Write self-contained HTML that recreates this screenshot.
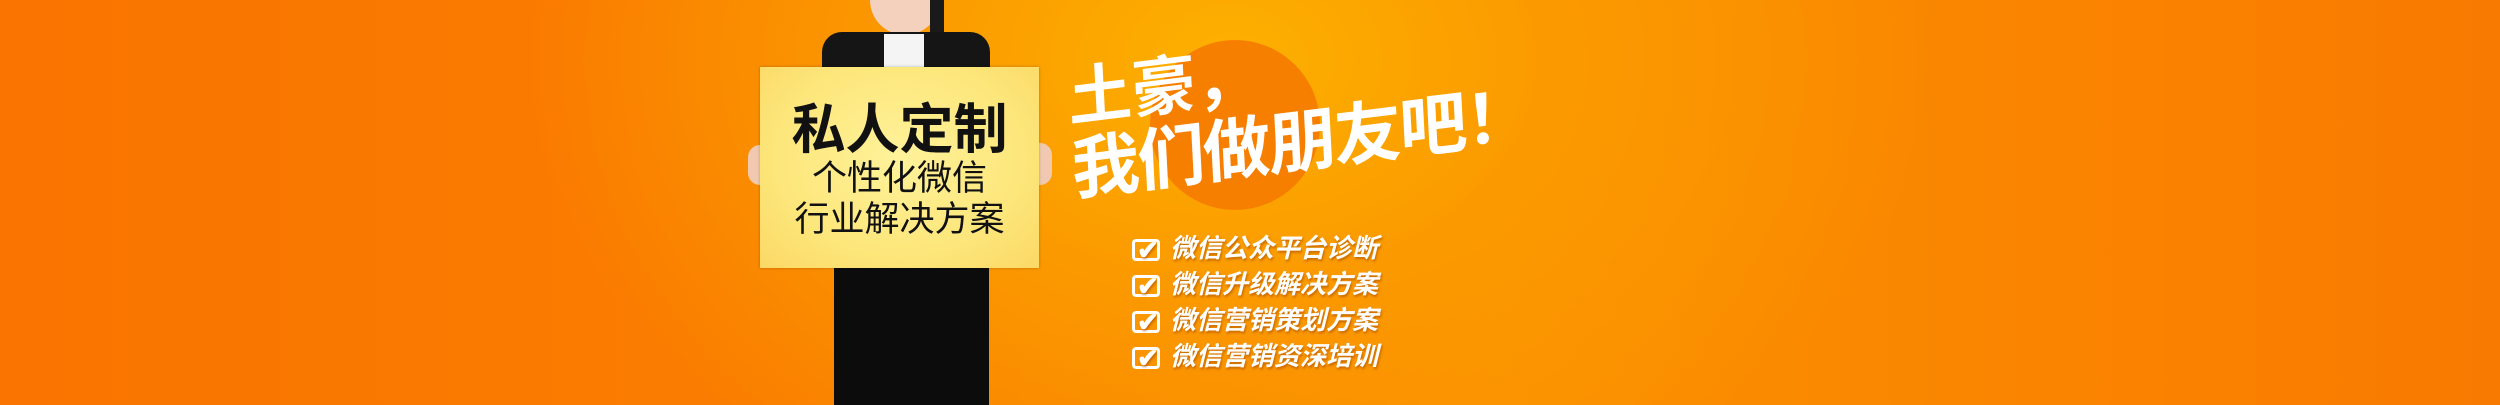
<!DOCTYPE html>
<html><head><meta charset="utf-8"><style>
html,body{margin:0;padding:0}
body{width:2500px;height:405px;overflow:hidden;position:relative;font-family:"Liberation Sans","Noto Sans CJK SC",sans-serif;
background:radial-gradient(ellipse 700px 500px at 1230px 60px,#fdb000 0%,#fb9a00 45%,rgba(250,125,0,0) 100%),linear-gradient(90deg,#f97400 0%,#fa8000 40%,#fb9000 60%,#f97a00 100%);}
.abs{position:absolute}
</style></head><body>
<div class="abs" style="left:1150px;top:40px;width:170px;height:170px;border-radius:50%;background:#f77f00"></div>
<div class="abs" style="left:870px;top:-20px;width:70px;height:55px;border-radius:0 0 35px 35px;background:#f3d1bd"></div>
<div class="abs" style="left:930px;top:0;width:14px;height:40px;background:#1a1a1a"></div>
<div class="abs" style="left:822px;top:32px;width:168px;height:40px;background:#151515;border-radius:20px 20px 0 0"></div>
<div class="abs" style="left:884px;top:34px;width:40px;height:38px;background:#f4f4f4"></div>
<div class="abs" style="left:834px;top:268px;width:155px;height:137px;background:#0c0c0c"></div>
<div class="abs" style="left:748px;top:145px;width:30px;height:40px;border-radius:12px;background:#f0c9b0"></div>
<div class="abs" style="left:1022px;top:143px;width:30px;height:42px;border-radius:12px;background:#f0c9b0"></div>
<div class="abs" style="left:760px;top:67px;width:279px;height:201px;background:radial-gradient(ellipse at 50% 45%,#fff29a 0%,#fde77c 60%,#fbd865 100%);box-shadow:0 0 3px rgba(0,0,0,.25);text-align:center;color:#111">
<div style="margin-top:34px;font-size:54px;font-weight:bold;line-height:58px">私人定制</div>
<div style="font-size:35px;line-height:40px">个性化微信</div>
<div style="font-size:35px;line-height:42px">行业解决方案</div>
</div>
<div class="abs" style="left:1074px;top:64px;color:#fff;font-weight:bold;transform:rotate(-7deg) skewX(-4deg);transform-origin:0 100%;">
<div style="font-size:64px;line-height:70px">土豪，</div>
<div style="font-size:68px;line-height:74px;letter-spacing:-2px">我们做朋友吧！</div>
</div>
<div class="abs" style="left:1132px;top:230px;color:#fff;font-weight:bold;font-style:italic;font-size:26px;text-shadow:1px 2px 2px rgba(150,60,0,.5)">
<div style="height:36px;line-height:36px"><span style="display:inline-block;width:28px;height:22px;border:3px solid #fff;border-radius:4px;vertical-align:middle;margin-right:10px;box-sizing:border-box;position:relative"><span style="position:absolute;left:2px;top:-10px;font-size:26px;font-style:normal">✔</span></span>微信公众平台诊断</div>
<div style="height:36px;line-height:36px"><span style="display:inline-block;width:28px;height:22px;border:3px solid #fff;border-radius:4px;vertical-align:middle;margin-right:10px;box-sizing:border-box;position:relative"><span style="position:absolute;left:2px;top:-10px;font-size:26px;font-style:normal">✔</span></span>微信升级解决方案</div>
<div style="height:36px;line-height:36px"><span style="display:inline-block;width:28px;height:22px;border:3px solid #fff;border-radius:4px;vertical-align:middle;margin-right:10px;box-sizing:border-box;position:relative"><span style="position:absolute;left:2px;top:-10px;font-size:26px;font-style:normal">✔</span></span>微信营销策划方案</div>
<div style="height:36px;line-height:36px"><span style="display:inline-block;width:28px;height:22px;border:3px solid #fff;border-radius:4px;vertical-align:middle;margin-right:10px;box-sizing:border-box;position:relative"><span style="position:absolute;left:2px;top:-10px;font-size:26px;font-style:normal">✔</span></span>微信营销资深培训</div>
</div>
</body></html>
